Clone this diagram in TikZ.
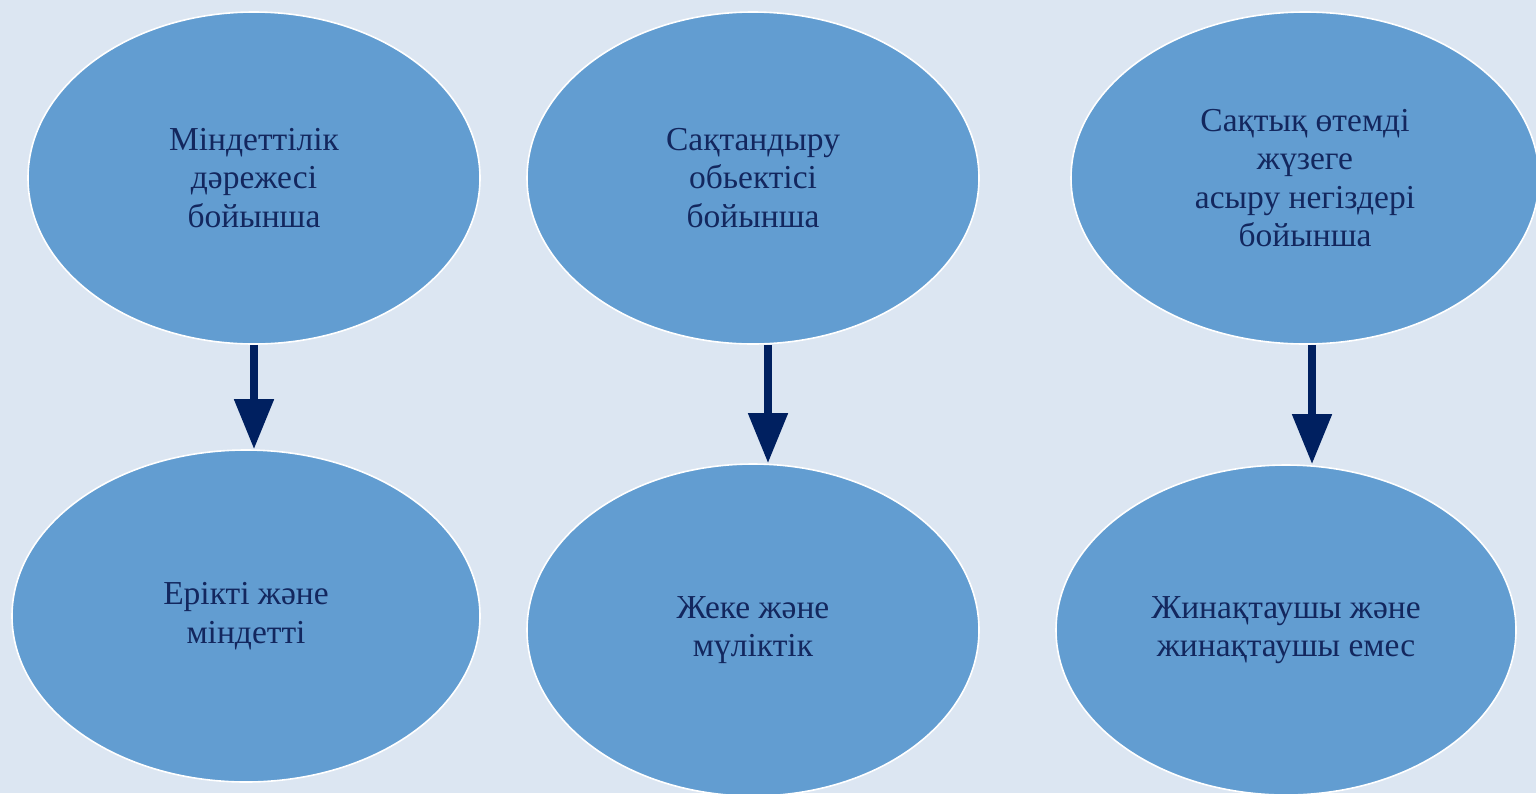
\documentclass[tikz,border=0pt]{standalone}
\usepackage{fontspec}
\setmainfont{Liberation Serif}
\usetikzlibrary{shapes.geometric,arrows.meta,calc}
\definecolor{bgc}{HTML}{DCE6F2}
\definecolor{ellc}{HTML}{629DD1}
\definecolor{txtc}{HTML}{13275E}
\definecolor{arrc}{HTML}{002060}
\begin{document}
\begin{tikzpicture}[x=1pt,y=-1pt,
  bub/.style={ellipse,fill=ellc,draw=white,line width=1.6pt,inner sep=0pt,
    text=txtc,align=center,font=\fontsize{33.5}{38.5}\selectfont},
  arr/.style={draw=arrc,line width=8pt,-{Triangle[width=38pt,length=50pt]},arrc,shorten >=0pt}]
\fill[bgc] (0,0) rectangle (1536,793);
\useasboundingbox (0,0) rectangle (1536,793);
\node[bub,minimum width=452pt,minimum height=332pt] (e1) at (254,178) {Міндеттілік\\дәрежесі\\бойынша};
\node[bub,minimum width=452pt,minimum height=332pt] (e2) at (753,178) {Сақтандыру\\обьектісі\\бойынша};
\node[bub,minimum width=468pt,minimum height=332pt] (e3) at (1305,178) {Сақтық өтемді\\жүзеге\\асыру негіздері\\бойынша};
\node[bub,minimum width=468pt,minimum height=332pt] (e4) at (246,616) {Ерікті және\\міндетті};
\node[bub,minimum width=452pt,minimum height=332pt] (e5) at (753,630) {Жеке және\\мүліктік};
\node[bub,minimum width=460pt,minimum height=330pt] (e6) at (1286,630) {Жинақтаушы және\\жинақтаушы емес};
\coordinate (a1) at (e1.south);
\coordinate (b1) at (a1 |- e4.north);
\coordinate (a2) at ($(e2.south)+(15,0)$);
\coordinate (b2) at (a2 |- e5.north);
\coordinate (a3) at ($(e3.south)+(7,0)$);
\coordinate (b3) at (a3 |- e6.north);
\draw[arr] (a1) -- (b1);
\draw[arr] (a2) -- (b2);
\draw[arr] (a3) -- (b3);
\end{tikzpicture}
\end{document}
